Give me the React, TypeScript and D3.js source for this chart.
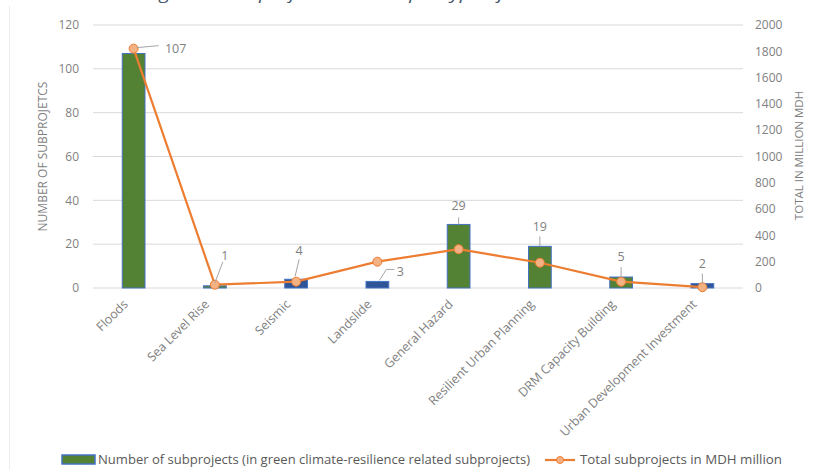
import React from 'react';
import * as d3 from 'd3';

const categories = [
  'Floods',
  'Sea Level Rise',
  'Seismic',
  'Landslide',
  'General Hazard',
  'Resilient Urban Planning',
  'DRM Capacity Building',
  'Urban Development Investment',
];
const subprojects = [107, 1, 4, 3, 29, 19, 5, 2];
const isGreen = [true, true, false, false, true, true, true, false];
const totalMDH = [1820, 25, 48, 200, 295, 192, 48, 6];
const leftTicks = [0, 20, 40, 60, 80, 100, 120];
const rightTicks = [0, 200, 400, 600, 800, 1000, 1200, 1400, 1600, 1800, 2000];

const W = 815;
const H = 470;
const margin = { top: 25, right: 72, bottom: 182, left: 93 };
const FONT = "'Open Sans', sans-serif";

// label offsets relative to the top of each bar (dx, dy of text, leader line points)
const labelPos: { dx: number; dy: number; line: [number, number][] }[] = [
  { dx: 42, dy: 0, line: [[3, -1], [25, -3]] },
  { dx: 10, dy: -30, line: [[0, -3], [8, -24]] },
  { dx: 3, dy: -29, line: [[-1, -3], [3, -20]] },
  { dx: 23, dy: -10, line: [[2, -1], [9, -12], [17, -12]] },
  { dx: 0, dy: -19, line: [[0, 0], [0, -7]] },
  { dx: 0, dy: -20, line: [[0, 0], [0, -10]] },
  { dx: 0, dy: -20, line: [[0, 0], [0, -10]] },
  { dx: 0, dy: -20, line: [[0, 0], [0, -10]] },
];

export default function App() {
  const x = d3
    .scaleBand<string>()
    .domain(categories)
    .range([margin.left, W - margin.right])
    .paddingInner(0.72)
    .paddingOuter(0.36);
  const y = d3.scaleLinear().domain([0, 120]).range([H - margin.bottom, margin.top]);
  const y2 = d3.scaleLinear().domain([0, 2000]).range([H - margin.bottom, margin.top]);
  const cx = (c: string) => (x(c) ?? 0) + x.bandwidth() / 2;

  const line = d3
    .line<number>()
    .x((_, i) => cx(categories[i]))
    .y((d) => y2(d));

  return (
    <svg
      width={W}
      height={H}
      style={{ position: 'absolute', left: 0, top: 0, background: '#fff' }}
      fontFamily={FONT}
    >
      <line x1={9.5} x2={9.5} y1={6} y2={H} stroke="#ececec" />
      <text
        x={425}
        y={-1}
        textAnchor="middle"
        fontStyle="italic"
        fontSize={17}
        fill="#44546A"
        textLength={560}
        lengthAdjust="spacingAndGlyphs"
      >
        Figure 4: Subprojects number per type of disaster and total cost
      </text>

      {leftTicks.map((t) => (
        <g key={'l' + t}>
          <line
            x1={margin.left}
            x2={W - margin.right}
            y1={y(t)}
            y2={y(t)}
            stroke="#d9d9d9"
          />
          <text x={79} y={y(t)} dy="0.35em" textAnchor="end" fontSize={12} fill="#7f7f7f">
            {t}
          </text>
        </g>
      ))}
      {rightTicks.map((t) => (
        <text key={'r' + t} x={755} y={y2(t)} dy="0.35em" fontSize={12} fill="#7f7f7f">
          {t}
        </text>
      ))}

      <text
        transform={`translate(47,${(y(0) + y(120)) / 2}) rotate(-90)`}
        textAnchor="middle"
        fontSize={12}
        fill="#7f7f7f"
      >
        NUMBER OF SUBPROJETCS
      </text>
      <text
        transform={`translate(803,${(y(0) + y(120)) / 2 - 1}) rotate(-90)`}
        textAnchor="middle"
        fontSize={11.5}
        fill="#7f7f7f"
      >
        TOTAL IN MILLION MDH
      </text>

      {subprojects.map((v, i) => (
        <rect
          key={categories[i]}
          x={x(categories[i])}
          y={y(v)}
          width={x.bandwidth()}
          height={y(0) - y(v)}
          fill={isGreen[i] ? '#548235' : '#2F5597'}
          stroke="#4472C4"
          strokeWidth={1}
        />
      ))}

      <path d={line(totalMDH) ?? ''} fill="none" stroke="#ED7D31" strokeWidth={2.2} />
      {totalMDH.map((v, i) => (
        <circle
          key={'m' + i}
          cx={cx(categories[i])}
          cy={y2(v)}
          r={4.5}
          fill="#F4B183"
          stroke="#ED7D31"
          strokeWidth={1}
        />
      ))}

      {subprojects.map((v, i) => {
        const bx = cx(categories[i]);
        const by = i === 0 ? y2(totalMDH[0]) : y(v);
        const p = labelPos[i];
        const pts = p.line.map(([a, b]) => `${bx + a},${by + b}`).join(' ');
        return (
          <g key={'lab' + i}>
            <polyline points={pts} fill="none" stroke="#a6a6a6" strokeWidth={1} />
            <text
              x={bx + p.dx}
              y={by + p.dy}
              dy="0.35em"
              textAnchor="middle"
              fontSize={12.5}
              fill="#7f7f7f"
            >
              {v}
            </text>
          </g>
        );
      })}

      {categories.map((c) => (
        <text
          key={'c' + c}
          transform={`translate(${cx(c) - 5},${y(0) + 17}) rotate(-45)`}
          textAnchor="end"
          fontSize={12.5}
          fill="#7f7f7f"
        >
          {c}
        </text>
      ))}

      <g transform="translate(0,460)">
        <rect x={62} y={-5} width={33} height={9} fill="#548235" stroke="#4472C4" strokeWidth={1.5} />
        <text x={98} y={0} dy="0.35em" fontSize={12} fill="#595959" textLength={432} lengthAdjust="spacingAndGlyphs">
          Number of subprojects (in green climate-resilience related subprojects)
        </text>
        <line x1={545} x2={575} y1={0} y2={0} stroke="#ED7D31" strokeWidth={2.2} />
        <circle cx={560} cy={0} r={3.5} fill="#F4B183" stroke="#ED7D31" />
        <text x={580} y={0} dy="0.35em" fontSize={12} fill="#595959" textLength={202} lengthAdjust="spacingAndGlyphs">
          Total subprojects in MDH million
        </text>
      </g>
    </svg>
  );
}
